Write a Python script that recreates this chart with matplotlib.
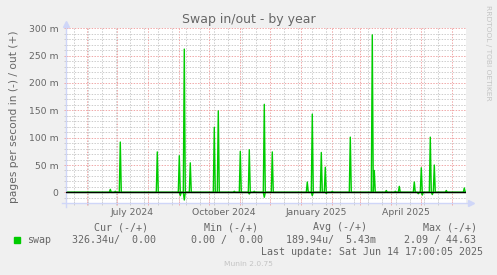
import pandas as pd
import matplotlib
matplotlib.use('Agg')
import matplotlib.pyplot as plt
import matplotlib.dates as mdates
from matplotlib.ticker import MultipleLocator, FixedLocator, NullFormatter, FuncFormatter
from matplotlib.patches import Rectangle

# daily averages, values in milli pages/s
# swap out (drawn positive)
out_days = ['2024-06-24', '2024-06-29', '2024-07-04', '2024-08-10', '2024-09-01',
            '2024-09-06', '2024-09-12', '2024-10-06', '2024-10-10', '2024-10-26',
            '2024-11-01', '2024-11-10', '2024-11-15', '2024-11-25', '2024-12-03',
            '2025-01-07', '2025-01-12', '2025-01-21', '2025-01-25', '2025-02-01',
            '2025-02-19', '2025-03-13', '2025-03-15', '2025-03-27', '2025-04-05',
            '2025-04-09', '2025-04-24', '2025-05-01', '2025-05-10', '2025-05-14',
            '2025-05-26', '2025-06-13']
out_vals = [5.5, 2, 92, 74, 67,
            262, 54, 119, 149, 2,
            75, 78, 2, 161, 74,
            19, 143, 73, 46, 2,
            101, 288, 40, 3.5, 2,
            11, 19, 45, 101, 50,
            3.5, 8]
# swap in (drawn negative)
in_days = ['2024-09-02', '2024-09-06', '2024-11-10', '2024-11-25', '2025-01-12',
           '2025-01-26', '2025-04-28', '2025-05-02', '2025-05-12']
in_vals = [6, 14, 3, 9, 6, 2, 2.5, 5, 4]

x_labels = ['July 2024', 'October 2024', 'January 2025', 'April 2025']
x_label_at = ['2024-07-16', '2024-10-16', '2025-01-16', '2025-04-16']

start = pd.Timestamp('2024-05-10 17:00')
end = pd.Timestamp('2025-06-14 17:00')
days = pd.date_range('2024-05-11', '2025-06-14', freq='D')
swap_out = pd.Series(0.0, index=days)
swap_out.loc[pd.to_datetime(out_days)] = out_vals
swap_in = pd.Series(0.0, index=days)
swap_in.loc[pd.to_datetime(in_days)] = in_vals

FONT = '#666666'
AXIS = '#CFD6F8'
GRID = '#CDCDCD'
MGRID = '#F0A8A8'

fig = plt.figure(figsize=(4.97, 2.75), dpi=100, facecolor='#F0F0F0')
W, H = 497, 275
ax = fig.add_axes([66/W, 1 - 203.3/H, 400/W, 175/H], facecolor='white')

ax.plot(days, swap_out.values, color='#00CC00', lw=1, zorder=2)
ax.plot(days, -swap_in.values, color='#00CC00', lw=1, zorder=2)
ax.axhline(0, color='black', lw=1, zorder=3)

ax.set_xlim(start, end)
ax.set_ylim(-20, 300)

ax.xaxis.set_major_locator(mdates.MonthLocator())
ax.xaxis.set_minor_locator(FixedLocator(mdates.date2num(pd.date_range('2024-05-19', end, freq='14D'))))
ax.xaxis.set_major_formatter(NullFormatter())
ax.yaxis.set_major_locator(MultipleLocator(50))
ax.yaxis.set_minor_locator(MultipleLocator(10))
ax.yaxis.set_major_formatter(FuncFormatter(lambda v, p: '0' if v == 0 else f'{v:g} m'))

ax.set_axisbelow(True)
ax.grid(which='minor', color=GRID, ls=(0, (1.4, 1.4)), lw=0.72)
ax.grid(which='major', color=MGRID, ls=(0, (1.4, 1.4)), lw=0.72)
ax.tick_params(which='major', color=MGRID, length=3, width=0.72, direction='inout',
               labelsize=6.7, labelcolor=FONT, pad=4)
ax.tick_params(which='minor', color=GRID, length=3, width=0.72, direction='inout')

for s in ax.spines.values():
    s.set_visible(False)

# axes with arrows, munin style
ax.plot([-4/400, 403/400], [0, 0], color=AXIS, lw=1, transform=ax.transAxes, clip_on=False)
ax.plot(405/400, 0, '>', color=AXIS, ms=4, transform=ax.transAxes, clip_on=False)
ax.plot([0, 0], [-4/175, 1.01], color=AXIS, lw=1, transform=ax.transAxes, clip_on=False)
ax.plot(0, 1.025, '^', color=AXIS, ms=4, transform=ax.transAxes, clip_on=False)

xt = ax.get_xaxis_transform()
for lab, at in zip(x_labels, x_label_at):
    ax.text(pd.Timestamp(at), -0.055, lab, transform=xt, ha='center', va='center',
            fontsize=6.7, color=FONT)

fig.text(0.5, 1 - 19.3/H, 'Swap in/out - by year', ha='center', va='center',
         fontsize=9, color=FONT)
fig.text(14/W, 1 - 117/H, 'pages per second in (-) / out (+)', rotation=90,
         ha='center', va='center', fontsize=7.7, color=FONT)
fig.text(488/W, 1 - 53/H, 'RRDTOOL / TOBI OETIKER', rotation=270,
         ha='center', va='center', fontsize=5.4, color='#c4c4c4')

mono = dict(family='DejaVu Sans Mono', fontsize=7.2, color=FONT, va='center', ha='left')
row1 = 1 - 227.3/H
row2 = 1 - 239.7/H
for x, t in [(94.3, 'Cur (-/+)'), (204, 'Min (-/+)'), (313.3, 'Avg (-/+)'), (422.7, 'Max (-/+)')]:
    fig.text(x/W, row1, t, **mono)
fig.add_artist(Rectangle((14/W, 1 - 242.7/H), 6/W, 5.4/H, color='#00CC00',
                         transform=fig.transFigure))
for x, t in [(26.7, 'swap'), (71.7, '326.34u/  0.00'), (190.7, '0.00 /  0.00'),
             (285.7, '189.94u/  5.43m'), (404, '2.09 / 44.63')]:
    fig.text(x/W, row2, t, **mono)
fig.text(483/W, 1 - 251.8/H, 'Last update: Sat Jun 14 17:00:05 2025',
         **{**mono, 'ha': 'right'})
fig.text(248/W, 1 - 263.8/H, 'Munin 2.0.75', ha='center', va='center',
         fontsize=5.4, color='#c4c4c4')

fig.savefig('out.png', dpi=100, facecolor=fig.get_facecolor())
